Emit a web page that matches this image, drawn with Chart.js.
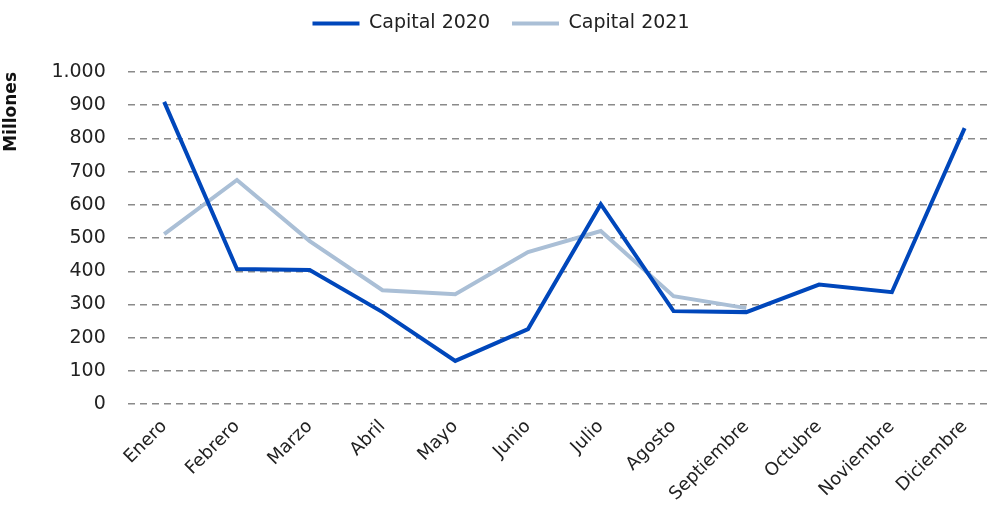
<!DOCTYPE html>
<html>
<head>
<meta charset="utf-8">
<script src="https://cdn.jsdelivr.net/npm/chart.js@4.4.1/dist/chart.umd.min.js"></script>
<style>
html,body{margin:0;padding:0;background:#fff;overflow:hidden}
#wrap{width:1001px;height:513px;position:relative}
</style>
</head>
<body>
<div id="wrap"><canvas id="capChart"></canvas></div>
<script>
/* capital mensual, millones */
const meses=['Enero','Febrero','Marzo','Abril','Mayo','Junio','Julio','Agosto','Septiembre','Octubre','Noviembre','Diciembre'];
const capital2020=[910,407,404,277,130,226,602,280,277,360,337,831];
const capital2021=[512,675,491,343,331,458,521,325,289,null,null,null];
const yTicks=[0,100,200,300,400,500,600,700,800,900,1000];

const FONT='"DejaVu Sans", sans-serif';
const fmtMiles=v=>String(v).replace(/\B(?=(\d{3})+(?!\d))/g,'.');

// separa un poco la leyenda del area del grafico
const legendGap={id:'legendGap',beforeInit(chart){
  const fit=chart.legend.fit;
  chart.legend.fit=function(){fit.bind(chart.legend)();this.height+=29;};
}};

new Chart(document.getElementById('capChart'),{
  type:'line',
  data:{labels:meses,datasets:[
    {label:'Capital 2020',data:capital2020,borderColor:'#0047BB',backgroundColor:'#0047BB',borderWidth:4,pointRadius:0,tension:0},
    {label:'Capital 2021',data:capital2021,borderColor:'#AABFD6',backgroundColor:'#AABFD6',borderWidth:4,pointRadius:0,tension:0}
  ]},
  options:{responsive:true,maintainAspectRatio:false,animation:false,
    layout:{padding:{left:1,right:0,top:-8,bottom:4}},
    plugins:{
      legend:{position:'top',labels:{color:'#222',font:{family:FONT,size:19},boxWidth:47,boxHeight:4,padding:22,
        generateLabels:ch=>Chart.defaults.plugins.legend.labels.generateLabels(ch).map(l=>({...l,lineWidth:0}))}},
      tooltip:{enabled:false}
    },
    scales:{
      x:{offset:true,grid:{display:false},border:{display:false},
         ticks:{color:'#222',font:{family:FONT,size:18},minRotation:45,maxRotation:45,padding:4}},
      y:{min:0,max:1000,afterBuildTicks:a=>{a.ticks=yTicks.map(v=>({value:v}));},
         grid:{color:'#8a8a8a',lineWidth:1.5,drawTicks:false},border:{display:false,dash:[7,5]},
         ticks:{color:'#222',font:{family:FONT,size:19},padding:22,callback:v=>fmtMiles(v)},
         title:{display:true,text:'Millones',align:'end',color:'#111',font:{family:FONT,size:17,weight:'bold'},padding:{top:0,bottom:8}}}
    }
  },
  plugins:[legendGap]
});
</script>
</body>
</html>
